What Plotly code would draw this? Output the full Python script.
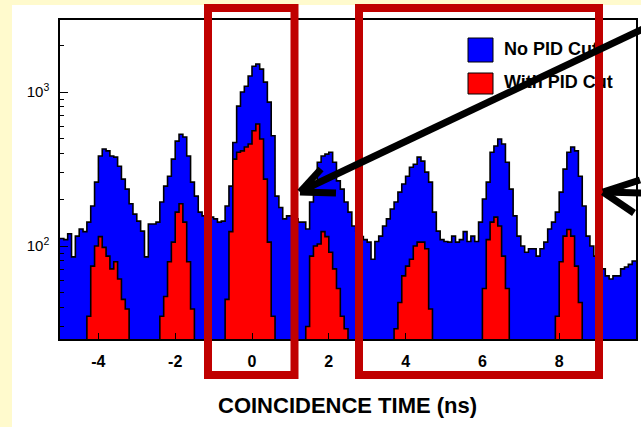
import plotly.graph_objects as go

# ---------------- data (counts per 0.1 ns bin) ----------------
bin_start = -5.0
bin_width = 0.1
no_pid_cut = [
    112, 110, 120, 85, 116, 129, 124, 143, 182, 260,
    384, 427, 415, 384, 378, 330, 272, 234, 188, 161,
    145, 125, 85, 139, 139, 143, 193, 245, 284, 367,
    480, 532, 510, 384, 260, 211, 166, 157, 154, 154,
    150, 143, 145, 182, 245, 470, 810, 1000, 1090, 1270,
    1470, 1520, 1410, 1160, 860, 520, 211, 178, 150, 157,
    157, 150, 143, 143, 129, 193, 260, 350, 384, 395,
    406, 350, 265, 234, 193, 166, 135, 125, 115, 110,
    106, 82, 107, 116, 135, 150, 174, 193, 224, 253,
    284, 325, 340, 378, 356, 302, 260, 166, 125, 110,
    107, 106, 116, 106, 110, 124, 107, 116, 107, 143,
    202, 260, 406, 446, 495, 460, 350, 234, 157, 116,
    100, 91, 96, 96, 86, 96, 106, 129, 143, 166,
    224, 316, 406, 440, 415, 284, 182, 116, 100, 86,
    79, 71, 64, 61, 64, 64, 71, 73, 76, 80,
]
with_pid_cut = [
    1, 1, 1, 1, 1, 1, 1, 35, 74, 100,
    115, 98, 86, 71, 79, 61, 45, 39, 1, 1,
    1, 1, 1, 1, 1, 1, 35, 47, 79, 106,
    166, 188, 143, 79, 39, 1, 1, 1, 1, 1,
    1, 1, 1, 45, 124, 367, 406, 415, 440, 460,
    560, 620, 495, 272, 106, 35, 1, 1, 1, 1,
    1, 1, 1, 1, 30, 86, 100, 103, 124, 115,
    91, 71, 53, 35, 29, 1, 1, 1, 1, 1,
    1, 1, 1, 1, 1, 1, 1, 29, 43, 64,
    74, 82, 100, 106, 106, 96, 39, 1, 1, 1,
    1, 1, 1, 1, 1, 1, 1, 1, 1, 1,
    53, 110, 143, 154, 135, 86, 53, 1, 1, 1,
    1, 1, 1, 1, 1, 1, 1, 1, 1, 35,
    79, 116, 128, 116, 74, 43, 1, 1, 1, 1,
    1, 1, 1, 1, 1, 1, 1, 1, 1, 1,
]
series_names = ["No PID Cut", "With PID Cut"]
x_tick_vals = [-4, -2, 0, 2, 4, 6, 8, 10]
x_tick_text = ["-4", "-2", "0", "2", "4", "6", "8", "10"]
y_tick_vals = [100, 1000]
y_tick_text = ["10<sup>2</sup>", "10<sup>3</sup>"]
x_title = "COINCIDENCE TIME (ns)"

# ---------------- geometry helpers ----------------
W, H = 641, 427
L, R, T, B = 60, 5, 20, 88
PW, PH = W - L - R, H - T - B


def px(x):
    return (x - L) / PW


def py(y):
    return (H - B - y) / PH


edges = [bin_start + i * bin_width for i in range(len(no_pid_cut) + 1)]


def step(vals):
    return list(vals) + [vals[-1]]


BLUE = "#0000FF"
RED = "#FF0000"
BOX = "#C00000"
YELLOW = "#FFFACD"

fig = go.Figure()
fig.add_trace(go.Scatter(x=edges, y=step(no_pid_cut), mode="lines", line_shape="hv",
                         line=dict(color="black", width=1.6), fill="tozeroy",
                         fillcolor=BLUE, name=series_names[0], showlegend=False,
                         hoverinfo="skip"))
fig.add_trace(go.Scatter(x=edges, y=step(with_pid_cut), mode="lines", line_shape="hv",
                         line=dict(color="black", width=1.6), fill="tozeroy",
                         fillcolor=RED, name=series_names[1], showlegend=False,
                         hoverinfo="skip"))

# legend text as a trace on an overlay (paper-like) axis so shapes can cover it
fig.add_trace(go.Scatter(x=[px(504), px(504)], y=[py(50), py(83)], mode="text",
                         text=series_names, textposition="middle right",
                         textfont=dict(family="Liberation Sans, Arial", size=18,
                                       color="black", weight="bold"),
                         xaxis="x2", yaxis="y2", showlegend=False, hoverinfo="skip",
                         cliponaxis=False))

shapes = []
# white panel over the yellow page
shapes.append(dict(type="rect", xref="paper", yref="paper", x0=px(12), x1=px(660),
                   y0=py(5), y1=py(440), fillcolor="white", line=dict(width=0), layer="below"))
# legend swatches
for (y0, y1, col) in [(38, 62, BLUE), (73, 94, RED)]:
    shapes.append(dict(type="rect", xref="paper", yref="paper", x0=px(468), x1=px(493),
                       y0=py(y1), y1=py(y0), fillcolor=col, line=dict(color="black", width=1)))
# red highlight boxes
for (x0, x1) in [(208, 294.5), (359, 599)]:
    shapes.append(dict(type="rect", xref="paper", yref="paper", x0=px(x0), x1=px(x1),
                       y0=py(375), y1=py(8), line=dict(color=BOX, width=8),
                       fillcolor="rgba(0,0,0,0)", layer="above"))
# arrows (open V heads)
arrow_lines = [
    ((645, 28), (301, 191)),
    ((300, 192), (321, 169)),
    ((300, 192), (336, 193)),
    ((645, 193), (604, 192)),
    ((603, 192), (640, 180)),
    ((603, 192), (634, 213)),
]
for (a, b) in arrow_lines:
    shapes.append(dict(type="line", xref="paper", yref="paper", x0=px(a[0]), y0=py(a[1]),
                       x1=px(b[0]), y1=py(b[1]), line=dict(color="black", width=7),
                       layer="above"))

annotations = [
    dict(text=x_title, xref="paper", yref="paper", x=px(347), y=py(405), showarrow=False,
         xanchor="center", yanchor="middle",
         font=dict(family="Liberation Sans, Arial", size=22, color="black", weight="bold")),
]

minor_vals = [v * 10 ** k for k in (1, 2, 3) for v in range(2, 10)]

fig.update_layout(
    width=W, height=H,
    margin=dict(l=L, r=R, t=T, b=B, pad=0, autoexpand=False),
    paper_bgcolor=YELLOW, plot_bgcolor="white",
    showlegend=False, hovermode=False,
    shapes=shapes, annotations=annotations,
    xaxis=dict(range=[-5, 10], tickvals=x_tick_vals, ticktext=x_tick_text,
               showgrid=False, zeroline=False, showline=True, linecolor="black",
               linewidth=1.5, mirror=True, ticks="inside", ticklen=6, tickcolor="black",
               tickfont=dict(family="Liberation Sans, Arial", size=16, color="black",
                             weight="bold"),
               ticklabelstandoff=7, automargin=False),
    yaxis=dict(type="log", range=[1.396, 3.468], tickvals=y_tick_vals, ticktext=y_tick_text,
               showgrid=False, zeroline=False, showline=True, linecolor="black",
               linewidth=1.5, mirror=True, ticks="inside", ticklen=8, tickcolor="black",
               tickfont=dict(family="Liberation Sans, Arial", size=15, color="black"),
               ticklabelstandoff=6, automargin=False,
               minor=dict(tickvals=minor_vals, ticks="inside", ticklen=4,
                          tickcolor="black", showgrid=False)),
    xaxis2=dict(overlaying="x", range=[0, 1], visible=False),
    yaxis2=dict(overlaying="y", range=[0, 1], visible=False),
)

fig.write_html("out.html", config={"displayModeBar": False},
               post_script="document.body.style.margin='0';document.body.style.padding='0';")
